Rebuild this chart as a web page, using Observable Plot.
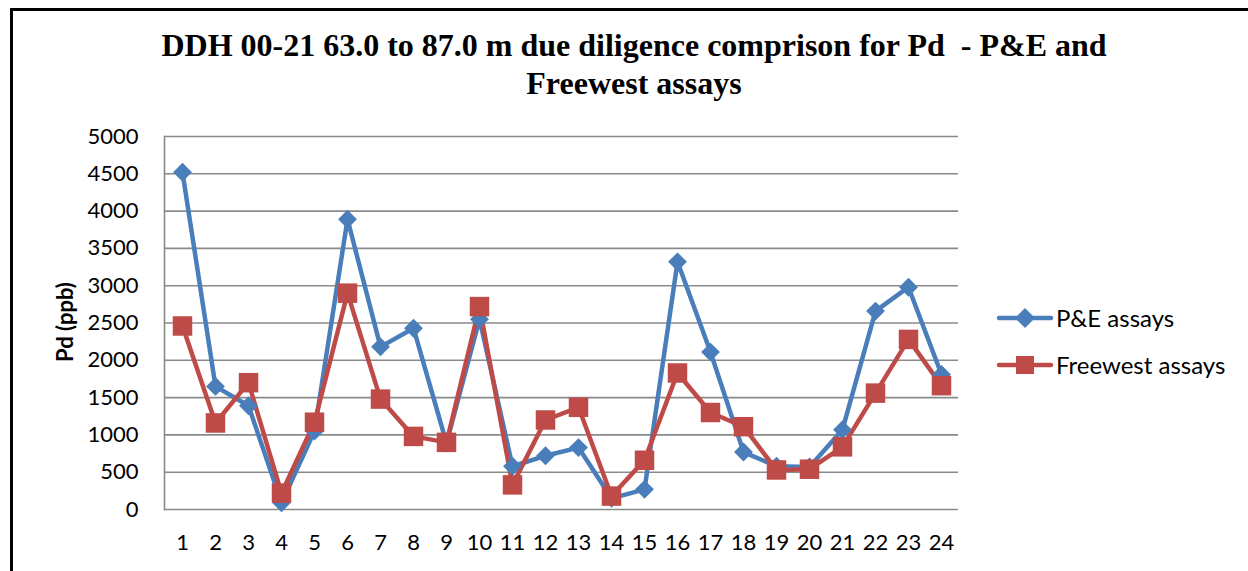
<!DOCTYPE html>
<html>
<head>
<meta charset="utf-8">
<script src="https://cdn.jsdelivr.net/npm/d3@7"></script>
<script src="https://cdn.jsdelivr.net/npm/@observablehq/plot@0.6"></script>
<style>
  html, body { margin: 0; padding: 0; background: #fff; }
  #wrap { position: relative; width: 1248px; height: 571px; overflow: hidden; background: #fff; }
  #frame { position: absolute; left: 10px; top: 8px; width: 1300px; height: 600px;
           border-top: 3px solid #000; border-left: 3px solid #000; box-sizing: border-box; }
  #title { position: absolute; left: 0; top: 26px; width: 1268px; text-align: center;
           font-family: "Liberation Serif", "Times New Roman", serif; font-weight: bold;
           font-size: 32px; line-height: 38px; color: #000; }
  #plot { position: absolute; left: 0; top: 0; }
  #ylabel { position: absolute; left: 64px; top: 322px; transform: translate(-50%, -50%) rotate(-90deg);
            font-family: "Lato", "Liberation Sans", sans-serif; font-weight: bold; font-size: 22px; white-space: nowrap; }
  .leg { position: absolute; left: 996px; font-family: "Lato", "Liberation Sans", sans-serif; font-size: 24px;
         display: flex; align-items: center; white-space: nowrap; color: #000; }
  .leg svg { margin-right: 2px; }
</style>
</head>
<body>
<div id="wrap">
  <div id="frame"></div>
  <div id="title">DDH 00-21 63.0 to 87.0 m due diligence comprison for Pd&nbsp; - P&amp;E and<br>Freewest assays</div>
  <div id="plot"></div>
  <div id="ylabel">Pd (ppb)</div>
  <div id="legend"></div>
</div>
<script>
const samples = [1,2,3,4,5,6,7,8,9,10,11,12,13,14,15,16,17,18,19,20,21,22,23,24];
const peAssays = [4520,1650,1390,90,1050,3890,2180,2430,890,2550,580,720,830,150,270,3320,2110,770,580,570,1070,2660,2980,1810];
const freewestAssays = [2460,1160,1700,220,1170,2900,1480,980,900,2720,330,1200,1370,180,660,1830,1300,1110,530,540,840,1560,2280,1660];
const seriesNames = ["P&E assays", "Freewest assays"];
const seriesColors = ["#4a7ebb", "#be4b48"];
const seriesSymbols = ["diamond2", "square"];
const yTicks = [0,500,1000,1500,2000,2500,3000,3500,4000,4500,5000];

const rows = [];
samples.forEach((s, i) => {
  rows.push({sample: s, value: peAssays[i], series: seriesNames[0]});
  rows.push({sample: s, value: freewestAssays[i], series: seriesNames[1]});
});

const chart = Plot.plot({
  width: 1248,
  height: 571,
  marginTop: 136,
  marginBottom: 62,
  marginLeft: 164,
  marginRight: 290,
  style: {fontFamily: "Lato, 'Liberation Sans', sans-serif", fontSize: "22px", color: "#000", background: "transparent"},
  x: {type: "point", domain: samples, padding: 0.5, label: null},
  y: {domain: [0, 5000], label: null},
  color: {domain: seriesNames, range: seriesColors},
  symbol: {domain: seriesNames, range: seriesSymbols},
  marks: [
    Plot.ruleY(yTicks, {stroke: "#8a8a8a", strokeWidth: 1.6}),
    Plot.frame({anchor: "left", stroke: "#8a8a8a", strokeWidth: 1.6}),
    Plot.axisY({ticks: yTicks, tickSize: 0, tickPadding: 26, label: null, fill: "#000", tickFormat: d => String(d)}),
    Plot.axisX({tickSize: 0, tickPadding: 25, label: null, fill: "#000"}),
    Plot.line(rows, {x: "sample", y: "value", z: "series", stroke: "series", strokeWidth: 4.5}),
    Plot.dot(rows.filter(d => d.series === seriesNames[0]), {x: "sample", y: "value", symbol: "series", fill: "series", r: 8.5}),
    Plot.dot(rows.filter(d => d.series === seriesNames[1]), {x: "sample", y: "value", symbol: "series", fill: "series", r: 11})
  ]
});
document.getElementById("plot").appendChild(chart);

// legend
const legend = document.getElementById("legend");
const legTops = [317, 364];
seriesNames.forEach((name, i) => {
  const div = document.createElement("div");
  div.className = "leg";
  div.style.top = (legTops[i] - 14) + "px";
  const sym = i === 0
    ? `<polygon points="29,4 39,14 29,24 19,14" fill="${seriesColors[i]}"/>`
    : `<rect x="20" y="5" width="18" height="18" fill="${seriesColors[i]}"/>`;
  div.innerHTML = `<svg width="58" height="28"><line x1="3" y1="14" x2="55" y2="14" stroke="${seriesColors[i]}" stroke-width="4.5" stroke-linecap="round"/>${sym}</svg><span>${name}</span>`;
  legend.appendChild(div);
});
</script>
</body>
</html>
